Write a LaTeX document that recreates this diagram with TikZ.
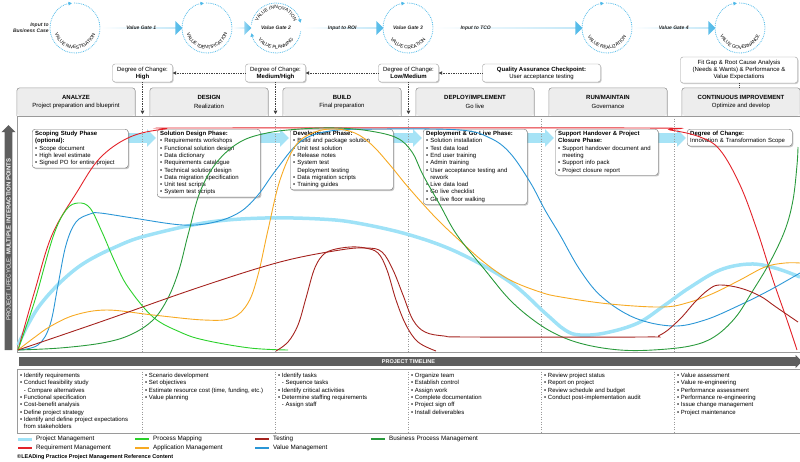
\documentclass[tikz,border=0pt]{standalone}
\usepackage{fontspec}
\setmainfont{Liberation Sans}
\usetikzlibrary{positioning,arrows.meta,shapes.arrows,shadows,decorations.text,backgrounds}

\definecolor{pmblue}{HTML}{9FE2F7}
\definecolor{reqred}{HTML}{E3232A}
\definecolor{testred}{HTML}{A5231F}
\definecolor{mapgreen}{HTML}{2BD12B}
\definecolor{bpmgreen}{HTML}{2A9A3C}
\definecolor{appyellow}{HTML}{F7AA23}
\definecolor{valblue}{HTML}{2A96D6}
\definecolor{gatecyan}{HTML}{4FB9E8}
\definecolor{chevcyan}{HTML}{A6E3F6}
\definecolor{bargray}{HTML}{5E5E5E}
\definecolor{hdrgray}{HTML}{EDEDED}
\definecolor{linegray}{HTML}{9A9A9A}

\newcommand{\gatefont}{\fontsize{4.8}{5}\selectfont}

\begin{document}
\begin{tikzpicture}[x=1pt,y=-1pt,node distance=133pt,font=\fontsize{6}{7.3}\selectfont,
	gate/.style={circle,minimum size=50pt,inner sep=0pt},
	gatearc/.style={gatecyan,densely dotted,line width=0.8pt,-{Triangle[length=3.5pt,width=3.5pt]}},
	garrow/.style={single arrow,single arrow head extend=3pt,minimum width=14pt,inner sep=0pt,left color=white,right color=gatecyan},
	gatelbl/.style={font=\fontsize{5}{6}\selectfont\bfseries\itshape,text=black!85,inner sep=0pt},
	dcbox/.style={draw=linegray,fill=white,rounded corners=2.5pt,align=center,minimum width=60pt,minimum height=18pt,inner sep=1pt,font=\fontsize{6}{7}\selectfont,drop shadow={shadow xshift=1pt,shadow yshift=-1pt,opacity=0.4}},
	dotarr/.style={densely dotted,line width=0.7pt,black!75,-{Triangle[length=3.5pt,width=3.5pt]}},
	hdr/.style={fill=hdrgray,rounded corners=3pt,minimum width=118pt,minimum height=28pt,inner sep=0pt,align=center,font=\fontsize{6}{8.4}\selectfont},
	hdrline/.style={linegray,line width=0.6pt},
	divider/.style={linegray,dotted,line width=0.5pt},
	phbox/.style={draw=black!55,fill=white,rounded corners=3pt,anchor=north west,align=left,inner xsep=3pt,inner ysep=2pt,drop shadow={shadow xshift=1.2pt,shadow yshift=-1.2pt,opacity=0.45}},
	chev/.style={chevcyan,line width=10pt,shorten >=1pt,-{Triangle[length=9pt,width=17pt]}},
	bar/.style={single arrow,fill=bargray,text=white,inner sep=0pt},
	col/.style={anchor=north west,align=left,inner sep=0pt,font=\fontsize{6}{7.33}\selectfont},
	lgd/.style={anchor=west,inner sep=1pt,font=\fontsize{6.3}{7}\selectfont},
	pmline/.style={pmblue,line width=3.5pt},
	reqline/.style={reqred,line width=0.9pt},
	testline/.style={testred,line width=0.9pt},
	mapline/.style={mapgreen,line width=0.9pt},
	bpmline/.style={bpmgreen,line width=0.9pt},
	appline/.style={appyellow,line width=0.9pt},
	valline/.style={valblue,line width=0.9pt}]
	\useasboundingbox (0,0) rectangle (800,461);

	\node[gate] (vinv) at (75,28) {};
	\node[gate] (vid) at (207,28) {};
	\node[gate] (vplan) at (276,28) {};
	\node[gate] (vcre) at (408,28) {};
	\node[gate] (vreal) at (607,28) {};
	\node[gate] (vgov) at (740,28) {};
	\draw[gatearc] ([shift={(92:25pt)}]vinv.center) arc[start angle=452,end angle=97,radius=25pt];
	\draw[gatearc] ([shift={(92:25pt)}]vid.center) arc[start angle=452,end angle=97,radius=25pt];
	\draw[gatearc] ([shift={(92:25pt)}]vcre.center) arc[start angle=452,end angle=97,radius=25pt];
	\draw[gatearc] ([shift={(92:25pt)}]vreal.center) arc[start angle=452,end angle=97,radius=25pt];
	\draw[gatearc] ([shift={(92:25pt)}]vgov.center) arc[start angle=452,end angle=97,radius=25pt];
	\draw[gatearc] ([shift={(172:25pt)}]vplan.center) arc[start angle=172,end angle=12,radius=25pt];
	\draw[gatearc] ([shift={(-8:25pt)}]vplan.center) arc[start angle=-8,end angle=-168,radius=25pt];
	\path[decorate,decoration={text along path,text align=center,text={|\gatefont|VALUE INVESTIGATION}}] ([shift={(180:21pt)}]vinv.center) arc[start angle=180,end angle=360,radius=21pt];
	\path[decorate,decoration={text along path,text align=center,text={|\gatefont|VALUE IDENTIFICATION}}] ([shift={(180:21pt)}]vid.center) arc[start angle=180,end angle=360,radius=21pt];
	\path[decorate,decoration={text along path,text align=center,text={|\gatefont|VALUE INNOVATION}}] ([shift={(172:19pt)}]vplan.center) arc[start angle=172,end angle=8,radius=19pt];
	\path[decorate,decoration={text along path,text align=center,text={|\gatefont|VALUE PLANNING}}] ([shift={(190:21pt)}]vplan.center) arc[start angle=190,end angle=350,radius=21pt];
	\path[decorate,decoration={text along path,text align=center,text={|\gatefont|VALUE CREATION}}] ([shift={(180:21pt)}]vcre.center) arc[start angle=180,end angle=360,radius=21pt];
	\path[decorate,decoration={text along path,text align=center,text={|\gatefont|VALUE REALIZATION}}] ([shift={(180:21pt)}]vreal.center) arc[start angle=180,end angle=360,radius=21pt];
	\path[decorate,decoration={text along path,text align=center,text={|\gatefont|VALUE GOVERNANCE}}] ([shift={(180:21pt)}]vgov.center) arc[start angle=180,end angle=360,radius=21pt];

	\node[garrow,minimum height=82pt,right=0pt of vinv] (ga1) {};
	\node[garrow,minimum height=19pt,right=0pt of vid] (ga2) {};
	\node[garrow,minimum height=82pt,right=0pt of vplan] (ga3) {};
	\node[garrow,minimum height=149pt,right=0pt of vcre] (ga4) {};
	\node[garrow,minimum height=83pt,right=0pt of vreal] (ga5) {};
	\node[gatelbl,align=right,left=1pt of vinv] (inbc) {Input to\\Business Case};
	\node[gatelbl] (lg1a) at (ga1) {Value Gate 1};
	\node[gatelbl] (lg2a) at (vplan) {Value Gate 2};
	\node[gatelbl] (lg3a) at (ga3) {Input to ROI};
	\node[gatelbl] (lg4a) at (vcre) {Value Gate 3};
	\node[gatelbl] (lg5a) at ([xshift=-32pt]ga4.center) {Input to TCO};
	\node[gatelbl] (lg6a) at (ga5) {Value Gate 4};

	\node[dcbox] (hi) at (142.5,73) {Degree of Change:\\\textbf{High}};
	\node[dcbox,right of=hi] (mh) {Degree of Change:\\\textbf{Medium/High}};
	\node[dcbox,right of=mh] (lm) {Degree of Change:\\\textbf{Low/Medium}};
	\node[dcbox,right of=lm,minimum width=118pt] (qa) {\textbf{Quality Assurance Checkpoint:}\\User acceptance testing};
	\node[dcbox,minimum width=117pt,minimum height=26pt] (fg) at (739,70) {Fit Gap \& Root Cause Analysis\\(Needs \& Wants) \& Performance \&\\Value Expectations};
	\draw[dotarr] (mh) -- (hi);
	\draw[dotarr] (lm) -- (mh);
	\draw[dotarr] (qa) -- (lm);

	\node[hdr] (an) at (76,102) {\textbf{ANALYZE}\\Project preparation and blueprint};
	\node[hdr,right of=an] (de) {\textbf{DESIGN}\\Realization};
	\node[hdr,right of=de] (bu) {\textbf{BUILD}\\Final preparation};
	\node[hdr,right of=bu] (dp) {\textbf{DEPLOY/IMPLEMENT}\\Go live};
	\node[hdr,right of=dp] (rn) {\textbf{RUN/MAINTAIN}\\Governance};
	\node[hdr,right of=rn] (ci) {\textbf{CONTINUOUS IMPROVEMENT}\\Optimize and develop};
	\draw[hdrline] (an.south west) [rounded corners=3pt] |- (an.north) -| (an.south east);
	\draw[hdrline] (de.south west) [rounded corners=3pt] |- (de.north) -| (de.south east);
	\draw[hdrline] (bu.south west) [rounded corners=3pt] |- (bu.north) -| (bu.south east);
	\draw[hdrline] (dp.south west) [rounded corners=3pt] |- (dp.north) -| (dp.south east);
	\draw[hdrline] (rn.south west) [rounded corners=3pt] |- (rn.north) -| (rn.south east);
	\draw[hdrline] (ci.south west) [rounded corners=3pt] |- (ci.north) -| (ci.south east);
	\draw[dotarr,shorten >=2pt] (hi) -- (hi |- an.south);
	\draw[dotarr,shorten >=2pt] (mh) -- (mh |- de.south);
	\draw[dotarr,shorten >=2pt] (lm) -- (lm |- bu.south);
	\draw[densely dotted,line width=0.7pt,black!75] (fg) -- (fg |- ci.north);

	\draw[hdrline] (17,116) rectangle (800,352);
	\draw[divider] (142.5,116) -- (142.5,352);
	\draw[divider] (275.5,116) -- (275.5,352);
	\draw[divider] (408.5,116) -- (408.5,352);
	\draw[divider] (541.5,116) -- (541.5,352);
	\draw[divider] (674.5,116) -- (674.5,352);

	\node[phbox,text width=90pt] (sc) at (32,129) {\textbf{Scoping Study Phase}\\\textbf{(optional):}\\• Scope document\\• High level estimate\\• Signed PO for entire project};
	\node[phbox,text width=97pt] (sd) at (157,129) {\textbf{Solution Design Phase:}\\• Requirements workshops\\• Functional solution design\\• Data dictionary\\• Requirements catalogue\\• Technical solution design\\• Data migration specification\\• Unit test scripts\\• System test scripts};
	\node[phbox,text width=97pt] (dv) at (290,129) {\textbf{Development Phase:}\\• Build and package solution\\• Unit test solution\\• Release notes\\• System test\\\phantom{• }Deployment testing\\• Data migration scripts\\• Training guides};
	\node[phbox,text width=98pt] (dl) at (423,129) {\textbf{Deployment \& Go Live Phase:}\\• Solution installation\\• Test data load\\• End user training\\• Admin training\\• User acceptance testing and\\\phantom{• }rework\\• Live data load\\• Go live checklist\\• Go live floor walking};
	\node[phbox,text width=97pt] (sh) at (555,129) {\textbf{Support Handover \& Project}\\\textbf{Closure Phase:}\\• Support handover document and\\\phantom{• }meeting\\• Support info pack\\• Project closure report};
	\node[phbox,text width=99pt] (dg) at (687,129) {\textbf{Degree of Change:}\\Innovation \& Transformation Scope};
	\begin{scope}[on background layer]
	\draw[chev] ([yshift=-9pt]sc.north east) -- ([yshift=-9pt]sd.north west);
	\draw[chev] ([yshift=-9pt]sd.north east) -- ([yshift=-9pt]dv.north west);
	\draw[chev] ([yshift=-9pt]dv.north east) -- ([yshift=-9pt]dl.north west);
	\draw[chev] ([yshift=-9pt]dl.north east) -- ([yshift=-9pt]sh.north west);
	\draw[chev] ([yshift=-9pt]sh.north east) -- ([yshift=-9pt]dg.north west);
	\end{scope}

	\draw[pmline] plot[smooth,tension=0.6] coordinates {(18,345) (40,305) (77,268) (120,245) (153,234) (210,222) (265,218) (320,219) (357,223) (410,235) (459,253) (510,282) (545,313) (565,330) (580,335) (605,333) (638,323) (665,305) (689,288) (720,270) (750,264) (775,268) (800,277)};
	\draw[reqline] plot[smooth,tension=0.6] coordinates {(18,350) (35,290) (52,235) (77,192) (100,158) (130,137) (165,129) (200,128) (640,128) (670,130) (700,137) (720,150) (740,185) (757,230) (773,280) (787,320) (797,350)};
	\draw[mapline] plot[smooth,tension=0.6] coordinates {(18,350) (35,300) (53,237) (66,210) (78,203) (90,208) (102,232) (115,262) (128,287) (153,317) (180,332) (204,340) (250,348) (288,350)};
	\draw[valline] plot[smooth,tension=0.6] coordinates {(18,350) (38,345) (50,325) (58,285) (66,245) (76,222) (90,214) (100,213) (133,218) (183,225) (215,222) (240,212) (258,195) (276,170) (300,142) (330,131) (380,129) (460,130) (490,138) (510,153) (530,182) (545,210) (560,235) (580,270) (602,297) (635,318) (673,326) (705,320) (740,305) (770,290) (800,273)};
	\draw[appline] plot[smooth,tension=0.6] coordinates {(18,350) (35,337) (51,326) (75,315) (107,310) (153,315) (204,320) (232,318) (248,303) (258,275) (268,230) (280,180) (296,145) (315,132) (335,129) (355,133) (372,145) (390,165) (408,187) (435,217) (459,240) (485,263) (510,280) (540,292) (561,297) (610,304) (663,307) (690,302) (714,293) (740,280) (765,267) (785,263) (800,263)};
	\draw[bpmline] plot[smooth,tension=0.6] coordinates {(18,350) (60,348) (102,343) (130,335) (153,320) (168,298) (179,270) (188,235) (200,192) (217,162) (240,142) (267,133) (300,129) (337,128) (370,131) (397,138) (412,152) (423,175) (440,205) (457,235) (485,270) (510,300) (536,322) (560,336) (587,345) (620,350) (653,350) (690,346) (714,337) (735,318) (752,292) (770,262) (785,230) (793,200) (797,165) (798,147)};
	\draw[testline] plot[smooth,tension=0.6] coordinates {(18,350) (100,322) (200,287) (280,262) (340,250) (367,248) (382,252) (393,270) (403,295) (413,320) (425,332) (444,336) (470,337) (640,337) (660,335) (679,320) (695,302) (708,290) (719,285) (740,288) (760,296) (776,307) (798,322)};
	\draw[testline] plot[smooth,tension=0.6] coordinates {(276,351) (288,342) (298,325) (306,298) (314,270) (322,256) (332,250) (350,247) (365,248) (378,253) (387,270) (396,300) (406,325) (418,342) (436,351)};

	\node[bar,rotate=90,minimum height=225pt,minimum width=14pt,single arrow head extend=2pt] (ax) at (8.5,239.5) {PROJECT LIFECYCLE: \textbf{MULTIPLE INTERACTION POINTS}};
	\node[bar,minimum height=783pt,minimum width=13pt,single arrow head extend=1pt,font=\fontsize{5.5}{6}\selectfont\bfseries] (tl) at (408.5,361.5) {PROJECT TIMELINE};

	\draw[hdrline] (17,369) rectangle (800,433);
	\draw[divider] (142.5,369) -- (142.5,433);
	\draw[divider] (275.5,369) -- (275.5,433);
	\draw[divider] (408.5,369) -- (408.5,433);
	\draw[divider] (541.5,369) -- (541.5,433);
	\draw[divider] (674.5,369) -- (674.5,433);
	\node[col] (t1) at (20,373) {• Identify requirements\\• Conduct feasibility study\\\phantom{• }- Compare alternatives\\• Functional specification\\• Cost-benefit analysis\\• Define project strategy\\• Identify and define project expectations\\\phantom{• }from stakeholders};
	\node[col] (t2) at (145,373) {• Scenario development\\• Set objectives\\• Estimate resource cost (time, funding, etc.)\\• Value planning};
	\node[col] (t3) at (278,373) {• Identify tasks\\\phantom{• }- Sequence tasks\\• Identify critical activities\\• Determine staffing requirements\\\phantom{• }- Assign staff};
	\node[col] (t4) at (411,373) {• Organize team\\• Establish control\\• Assign work\\• Complete documentation\\• Project sign off\\• Install deliverables};
	\node[col] (t5) at (544,373) {• Review project status\\• Report on project\\• Review schedule and budget\\• Conduct post-implementation audit};
	\node[col] (t6) at (677,373) {• Value assessment\\• Value re-engineering\\• Performance assessment\\• Performance re-engineering\\• Issue change management\\• Project maintenance};

	\node[lgd] (lg1) at (35,439) {Project Management};
	\node[lgd] (lg2) at (35,448) {Requirement Management};
	\node[lgd] (lg3) at (152,439) {Process Mapping};
	\node[lgd] (lg4) at (152,448) {Application Management};
	\node[lgd] (lg5) at (272,439) {Testing};
	\node[lgd] (lg6) at (272,448) {Value Management};
	\node[lgd] (lg7) at (388,439) {Business Process Management};
	\draw[pmline,line width=3pt] ([xshift=-17pt]lg1.west) -- ([xshift=-3pt]lg1.west);
	\draw[reqline,line width=1.2pt] ([xshift=-17pt]lg2.west) -- ([xshift=-3pt]lg2.west);
	\draw[mapline,line width=1.2pt] ([xshift=-17pt]lg3.west) -- ([xshift=-3pt]lg3.west);
	\draw[appline,line width=1.2pt] ([xshift=-17pt]lg4.west) -- ([xshift=-3pt]lg4.west);
	\draw[testline,line width=1.2pt] ([xshift=-17pt]lg5.west) -- ([xshift=-3pt]lg5.west);
	\draw[valline,line width=1.2pt] ([xshift=-17pt]lg6.west) -- ([xshift=-3pt]lg6.west);
	\draw[bpmline,line width=1.2pt] ([xshift=-17pt]lg7.west) -- ([xshift=-3pt]lg7.west);
	\node[anchor=west,inner sep=0pt,font=\fontsize{5.5}{6}\selectfont\bfseries] (ft) at (17,457) {©LEADing Practice Project Management Reference Content};
\end{tikzpicture}
\end{document}
